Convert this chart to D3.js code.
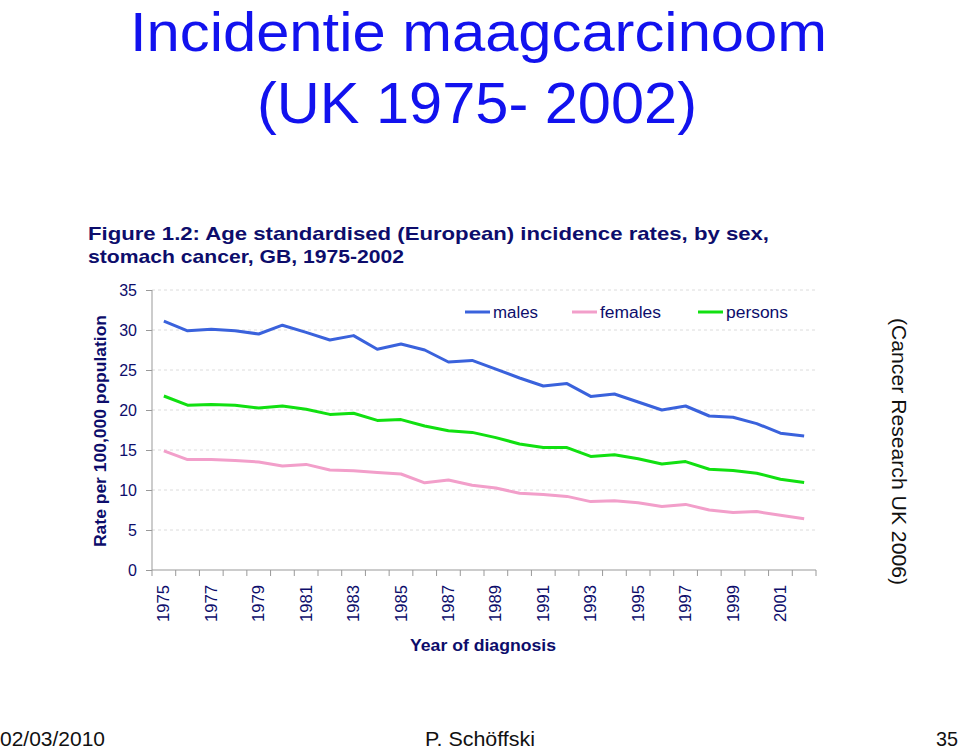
<!DOCTYPE html>
<html><head><meta charset="utf-8">
<script src="https://cdn.jsdelivr.net/npm/d3@7/dist/d3.min.js"></script>
<style>body{margin:0;background:#fff;}svg{display:block;font-family:"Liberation Sans",Arial,sans-serif;}</style>
</head><body>
<script>
const years = d3.range(1975, 2003);
const males = [31.1,29.9,30.1,29.9,29.5,30.6,29.7,28.75,29.3,27.6,28.25,27.5,26.0,26.2,25.1,24.0,23.0,23.3,21.7,22.0,21.0,20.0,20.5,19.25,19.1,18.3,17.1,16.75];
const females = [14.9,13.8,13.8,13.7,13.5,13.0,13.2,12.5,12.4,12.2,12.0,10.9,11.25,10.6,10.25,9.6,9.45,9.2,8.55,8.65,8.4,7.95,8.2,7.5,7.2,7.3,6.85,6.4];
const persons = [21.75,20.6,20.7,20.6,20.25,20.5,20.1,19.45,19.6,18.7,18.8,18.0,17.4,17.2,16.55,15.75,15.3,15.3,14.2,14.4,13.9,13.25,13.55,12.6,12.45,12.1,11.35,10.95];
const yTicks = [0,5,10,15,20,25,30,35];
const xLabels = [1975,1977,1979,1981,1983,1985,1987,1989,1991,1993,1995,1997,1999,2001];
const seriesNames = ["males","females","persons"];
const colors = {males:"#3a62dc", females:"#f29fca", persons:"#11e011"};
const series = {males, females, persons};

const W=960,H=751;
const svg=d3.select("body").append("svg").attr("width",W).attr("height",H);
const navy="#0d0d6b";

function fit(sel, len){ return sel.attr("textLength",len).attr("lengthAdjust","spacingAndGlyphs"); }

// Title
fit(svg.append("text").attr("x",478.5).attr("y",51).attr("text-anchor","middle")
  .attr("fill","#1212ee").attr("font-size",56).text("Incidentie maagcarcinoom"), 697);
fit(svg.append("text").attr("x",477).attr("y",123).attr("text-anchor","middle")
  .attr("fill","#1212ee").attr("font-size",58).text("(UK 1975- 2002)"), 440);

fit(svg.append("text").attr("x",88).attr("y",240).attr("fill",navy).attr("font-weight","bold")
  .attr("font-size",19).text("Figure 1.2: Age standardised (European) incidence rates, by sex,"), 681);
fit(svg.append("text").attr("x",88).attr("y",263).attr("fill",navy).attr("font-weight","bold")
  .attr("font-size",19).text("stomach cancer, GB, 1975-2002"), 316);

const x0=152, x1=816, y0=570, y1=290;
const x = d3.scaleBand().domain(years).range([x0,x1]);
const y = d3.scaleLinear().domain([0,35]).range([y0,y1]);

// gridlines
svg.append("g").selectAll("line").data(yTicks.filter(d=>d>0)).join("line")
  .attr("x1",x0).attr("x2",x1).attr("y1",d=>y(d)).attr("y2",d=>y(d))
  .attr("stroke","#dcdcdc").attr("stroke-dasharray","3,3").attr("stroke-width",1);

// y axis
const ya = svg.append("g").attr("transform",`translate(${x0},0)`)
  .call(d3.axisLeft(y).tickValues(yTicks).tickSize(6).tickPadding(9));
ya.select(".domain").attr("stroke","#999").attr("d",`M-0,${y1}V${y0}`);
ya.selectAll(".tick line").attr("stroke","#999");
ya.selectAll(".tick text").attr("fill",navy).attr("font-size",16).attr("font-family","Liberation Sans, Arial, sans-serif");

// x axis (ticks between categories)
const xg = svg.append("g");
xg.append("line").attr("x1",x0).attr("x2",x1).attr("y1",y0).attr("y2",y0).attr("stroke","#999");
xg.selectAll("line.tk").data(d3.range(29)).join("line").attr("class","tk")
  .attr("x1",i=>x0+i*x.bandwidth()).attr("x2",i=>x0+i*x.bandwidth())
  .attr("y1",y0).attr("y2",y0+6).attr("stroke","#999");
xg.selectAll("text").data(xLabels).join("text")
  .attr("transform",d=>`translate(${x(d)+x.bandwidth()/2+5.5},585) rotate(-90)`)
  .attr("text-anchor","end").attr("fill",navy).attr("font-size",16)
  .attr("textLength",37).attr("lengthAdjust","spacingAndGlyphs").text(d=>d);

// lines
const line = d3.line().x((d,i)=>x(years[i])+x.bandwidth()/2).y(d=>y(d));
seriesNames.forEach(n=>{
  svg.append("path").datum(series[n]).attr("d",line).attr("fill","none")
    .attr("stroke",colors[n]).attr("stroke-width",3).attr("stroke-linejoin","round");
});

// legend
const legX = {males:465, females:572, persons:698};
const legLen = {males:45, females:61, persons:62};
seriesNames.forEach(n=>{
  svg.append("line").attr("x1",legX[n]).attr("x2",legX[n]+25).attr("y1",312).attr("y2",312)
    .attr("stroke",colors[n]).attr("stroke-width",3);
  fit(svg.append("text").attr("x",legX[n]+28).attr("y",318).attr("fill",navy).attr("font-size",16).text(n), legLen[n]);
});

// axis titles
fit(svg.append("text").attr("transform","translate(106,431) rotate(-90)").attr("text-anchor","middle")
  .attr("fill",navy).attr("font-weight","bold").attr("font-size",16).text("Rate per 100,000 population"), 232);
fit(svg.append("text").attr("x",483).attr("y",651).attr("text-anchor","middle")
  .attr("fill",navy).attr("font-weight","bold").attr("font-size",17).text("Year of diagnosis"), 146);

// source
fit(svg.append("text").attr("transform","translate(892,451.5) rotate(90)").attr("text-anchor","middle")
  .attr("fill","#111").attr("font-size",21).text("(Cancer Research UK 2006)"), 267);

// footer
fit(svg.append("text").attr("x",0).attr("y",746).attr("fill","#111").attr("font-size",21).text("02/03/2010"), 105);
fit(svg.append("text").attr("x",425).attr("y",746).attr("fill","#111").attr("font-size",21).text("P. Schöffski"), 110);
fit(svg.append("text").attr("x",936).attr("y",746).attr("fill","#111").attr("font-size",21).text("35"), 22);
</script>
</body></html>
